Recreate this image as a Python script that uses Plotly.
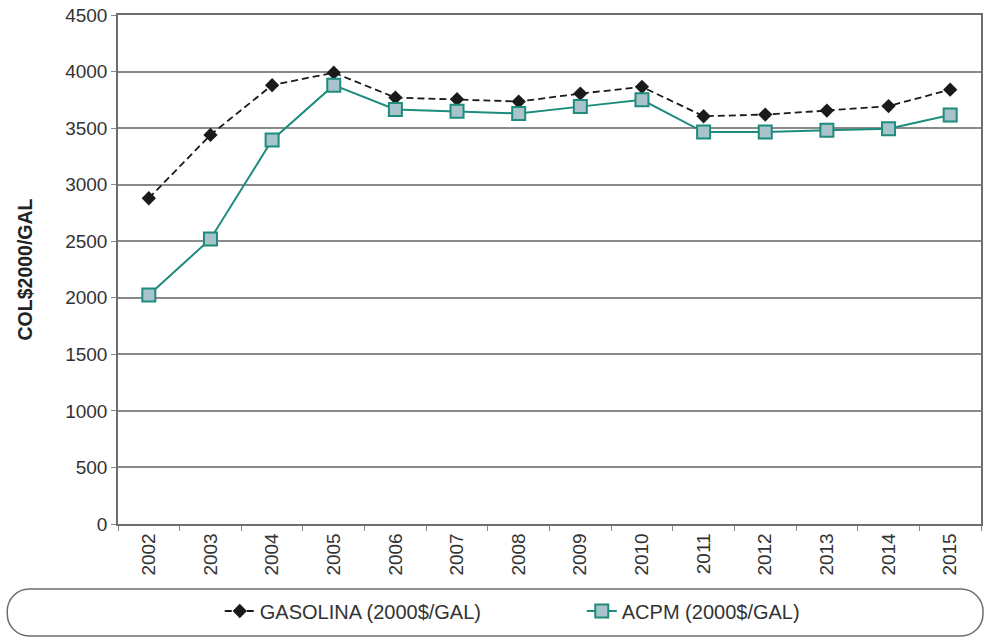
import plotly.graph_objects as go

years = ["2002", "2003", "2004", "2005", "2006", "2007", "2008",
         "2009", "2010", "2011", "2012", "2013", "2014", "2015"]
gasolina = [2880, 3440, 3880, 3990, 3770, 3755, 3735, 3805, 3865, 3605, 3620, 3655, 3695, 3840]
acpm = [2025, 2520, 3395, 3880, 3665, 3650, 3630, 3690, 3750, 3465, 3465, 3480, 3495, 3615]

W, H = 987, 637
L, R, T, B = 118, 4, 15, 113
PW, PH = W - L - R, H - T - B


def px(x):
    return (x - L) / PW


def py(y):
    return (H - B - y) / PH


fig = go.Figure()
fig.add_trace(go.Scatter(
    x=years, y=gasolina, name="GASOLINA (2000$/GAL)", mode="lines+markers",
    line=dict(color="#1a1a1a", width=1.8, dash="7px,4px"),
    marker=dict(symbol="diamond", size=11, color="#1a1a1a"),
))
fig.add_trace(go.Scatter(
    x=years, y=acpm, name="ACPM (2000$/GAL)", mode="lines+markers",
    line=dict(color="#1e8c7c", width=2),
    marker=dict(symbol="square", size=13, color="#a8c3cb",
                line=dict(color="#1e8c7c", width=2)),
))

# rounded frame around the legend
x0, x1, y0, y1, r = 7, 985, 589, 636, 22
k = 0.55 * r
pts = [
    f"M {px(x0 + r)},{py(y0)}",
    f"L {px(x1 - r)},{py(y0)}",
    f"C {px(x1 - r + k)},{py(y0)} {px(x1)},{py(y0 + r - k)} {px(x1)},{py(y0 + r)}",
    f"L {px(x1)},{py(y1 - r)}",
    f"C {px(x1)},{py(y1 - r + k)} {px(x1 - r + k)},{py(y1)} {px(x1 - r)},{py(y1)}",
    f"L {px(x0 + r)},{py(y1)}",
    f"C {px(x0 + r - k)},{py(y1)} {px(x0)},{py(y1 - r + k)} {px(x0)},{py(y1 - r)}",
    f"L {px(x0)},{py(y0 + r)}",
    f"C {px(x0)},{py(y0 + r - k)} {px(x0 + r - k)},{py(y0)} {px(x0 + r)},{py(y0)}",
    "Z",
]
fig.add_shape(type="path", xref="paper", yref="paper", path=" ".join(pts),
              line=dict(color="#6e6e6e", width=1.5), layer="above")

fig.update_layout(
    width=W, height=H,
    margin=dict(l=L, r=R, t=T, b=B, pad=0),
    plot_bgcolor="white", paper_bgcolor="white",
    font=dict(family="Liberation Sans, Arial, sans-serif", size=19, color="#333333"),
    showlegend=True,
    legend=dict(orientation="h", x=px(220), xanchor="left", y=py(611), yanchor="middle",
                font=dict(size=20, color="#333333"), entrywidth=317,
                bgcolor="rgba(0,0,0,0)"),
    xaxis=dict(
        type="category", showgrid=False, showline=True, linecolor="#6e6e6e", linewidth=1.5,
        mirror=True, ticks="outside", tickson="boundaries", ticklen=5, tickcolor="#888888",
        tickangle=-90, tickfont=dict(size=19), range=[-0.5, 13.5],
    ),
    yaxis=dict(
        range=[0, 4500], dtick=500, showgrid=True, gridcolor="#8a8a8a", gridwidth=1.5,
        showline=True, linecolor="#6e6e6e", linewidth=1.5, mirror=True,
        ticks="outside", ticklen=5, tickcolor="#888888", tickfont=dict(size=19),
        zeroline=False,
        title=dict(text="<b>COL$2000/GAL</b>", font=dict(size=19.5, color="#222222"), standoff=27),
    ),
)

fig.write_html("out.html")
